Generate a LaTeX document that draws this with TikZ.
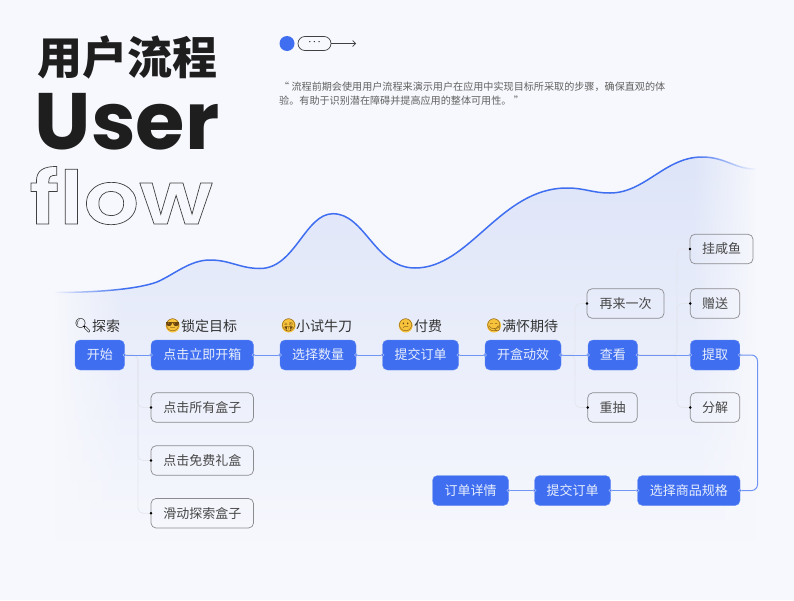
\documentclass[tikz,border=0pt]{standalone}
\usepackage{xcolor}
\usepackage{fontspec}
\usepackage{tikz}
\usetikzlibrary{arrows.meta, fadings, positioning}

\setmainfont{Noto Sans CJK SC}
\newfontfamily\titlefont{Noto Sans CJK SC Black}
\newfontfamily\userfont{Poppins}
\newfontfamily\flowfont{Poppins}[UprightFont=* SemiBold, FakeStretch=1.18]
\newfontfamily\emojifont{Noto Emoji}

\definecolor{paper}{HTML}{F7F8FD}
\definecolor{flowblue}{HTML}{3F6FF0}
\definecolor{flowthin}{HTML}{6F94F3}
\definecolor{areablue}{HTML}{DDE4F8}
\definecolor{ink}{HTML}{1E1E1E}
\definecolor{boxline}{HTML}{8C8C90}
\definecolor{branchgray}{HTML}{E4E6EE}
\definecolor{faceyellow}{HTML}{F8C33C}
\definecolor{facebrown}{HTML}{6A4510}

\tikzfading[name=fadeleft, left color=transparent!0, right color=transparent!100]
\tikzfading[name=faderight, left color=transparent!100, right color=transparent!0]

\newcommand{\curvepath}{(55,292.5) .. controls (90,292.5) and (135,290) .. (157,282)
    .. controls (175,274) and (190,260) .. (210,260)
    .. controls (230,260) and (240,268.5) .. (260,268.5)
    .. controls (295,268.5) and (305,213.7) .. (333,213.7)
    .. controls (365,213.7) and (375,268) .. (415,268)
    .. controls (470,268) and (500,188) .. (567,188)
    .. controls (585,188) and (592,193) .. (610,193)
    .. controls (645,193) and (665,157) .. (702,157)
    .. controls (725,157) and (735,169) .. (755,169)}

\tikzset{
    bluebox/.style={rectangle, rounded corners=5pt, fill=flowblue, draw=flowblue!80!white, line width=0.4pt,
        text=white!88!flowblue, minimum height=30pt, inner sep=0pt, outer sep=0pt, text height=11.4pt, text depth=1.6pt,
        font=\fontsize{13}{13}\selectfont},
    graybox/.style={rectangle, rounded corners=5pt, draw=boxline, line width=0.7pt,
        text=black!72, minimum height=29.5pt, inner sep=0pt, outer sep=0pt, text height=11.4pt, text depth=1.6pt,
        font=\fontsize{13}{13}\selectfont},
    steptitle/.style={inner sep=0pt, text=black!80, text height=12.3pt, text depth=1.7pt, font=\fontsize{14}{14}\selectfont},
    facemark/.style={circle, fill=faceyellow, inner sep=-4.5pt, minimum size=14pt, text=facebrown,
        font=\emojifont\fontsize{12.3}{12.3}\selectfont},
    glassmark/.style={inner sep=0pt, font=\emojifont\fontsize{14}{14}\selectfont},
    flowline/.style={flowthin, line width=1pt, rounded corners=6pt, shorten <=-1.7pt, shorten >=-1.7pt,
        {Circle[length=3.4pt, width=3.4pt, fill=flowblue, color=flowblue!45!white, line width=0.5pt]}-{Circle[length=3.4pt, width=3.4pt, fill=flowblue, color=flowblue!45!white, line width=0.5pt]}},
    branchline/.style={branchgray, line width=0.7pt, rounded corners=5pt, shorten >=-1.3pt,
        -{Circle[length=2.6pt, width=2.6pt, black]}}
}

\begin{document}
\begin{tikzpicture}[x=1pt, y=-1pt]
    \useasboundingbox (0,0) rectangle (794,600);
    % Paper
    \fill[paper] (0,0) rectangle (794,600);

    % Area under the curve
    \begin{scope}
        \clip \curvepath -- (755,560) -- (55,560) -- cycle;
        \shade[top color=areablue, bottom color=paper] (40,150) rectangle (770,550);
    \end{scope}
    \draw[flowblue, line width=1.5pt] \curvepath;
    % Both ends fade out
    \fill[paper, path fading=fadeleft] (53,280) rectangle (125,570);
    \fill[paper, path fading=faderight] (692,150) rectangle (757,570);

    % Titles
    \node[inner sep=0pt, text=ink, font=\titlefont\fontsize{45}{45}\selectfont] (titlecn) at (127.5,57.5) {用户流程};
    \node[inner sep=0pt, text=ink, font=\userfont\fontsize{80}{80}\selectfont\bfseries] (titleuser) at (127,122) {User};
    \node[anchor=base, inner sep=0pt, text=ink, font=\flowfont\fontsize{74}{74}\selectfont] (titleflow) at (121,224)
        {\special{pdf:code q 1 Tr 0.7 w 0.25 G}flow\special{pdf:code Q}};

    % Small sign next to the titles
    \node[circle, fill=flowblue, minimum size=15pt, inner sep=0pt] (signdot) at (287,43.5) {};
    \node[rectangle, rounded corners=7pt, draw=black!75, line width=0.7pt, minimum width=33pt, minimum height=14pt,
        inner sep=0pt, font=\userfont\fontsize{10}{10}\selectfont] (signpill) at (314.5,43.5) {\raisebox{-1.5pt}{·\kern2.5pt·\kern2.5pt·}};
    \coordinate (signend) at (356,43.5);
    \draw[black!75, line width=0.7pt, -{Straight Barb[length=3pt, width=6pt]}] (signpill) -- (signend);

    % Quote
    \node[anchor=north west, inner sep=0pt, text=black!62, align=left, font=\fontsize{10.1}{14}\selectfont] (quote) at (279,82)
        {“ 流程前期会使用用户流程来演示用户在应用中实现目标所采取的步骤，确保直观的体\\
         验。有助于识别潜在障碍并提高应用的整体可用性。 ”};

    % Main row
    \node[bluebox, minimum width=49.5pt] (start) at (99.75,355) {开始};
    \node[bluebox, minimum width=102.5pt] (open) at (202.25,355) {点击立即开箱};
    \node[bluebox, minimum width=76pt] (amount) at (318,355) {选择数量};
    \node[bluebox, minimum width=76pt] (order) at (420.5,355) {提交订单};
    \node[bluebox, minimum width=76pt] (effect) at (523,355) {开盒动效};
    \node[bluebox, minimum width=49.5pt] (view) at (612.75,355) {查看};
    \node[bluebox, minimum width=49.5pt] (fetch) at (715,355) {提取};
    % Bottom row
    \node[bluebox, minimum width=102.5pt] (spec) at (688.75,490.5) {选择商品规格};
    \node[bluebox, minimum width=76pt] (ordertwo) at (572.5,490.5) {提交订单};
    \node[bluebox, minimum width=76pt] (detail) at (470.5,490.5) {订单详情};
    % Side boxes
    \node[graybox, minimum width=102.5pt] (allbox) at (202.25,407.5) {点击所有盒子};
    \node[graybox, minimum width=102.5pt] (freebox) at (202.25,460.5) {点击免费礼盒};
    \node[graybox, minimum width=102.5pt] (slidebox) at (202.25,513.25) {滑动探索盒子};
    \node[graybox, minimum width=77pt] (again) at (625.5,303.5) {再来一次};
    \node[graybox, minimum width=49.5pt] (redraw) at (612.5,407.5) {重抽};
    \node[graybox, minimum width=63pt] (sell) at (721.5,249) {挂咸鱼};
    \node[graybox, minimum width=49.5pt] (gift) at (715,303.5) {赠送};
    \node[graybox, minimum width=49.5pt] (split) at (715,407.5) {分解};

    % Row titles
    \node[steptitle, anchor=west] (titleexplore) at (92,326) {探索};
    \node[steptitle, anchor=west] (titlegoal) at (181,326) {锁定目标};
    \node[steptitle, anchor=west] (titletry) at (296,326) {小试牛刀};
    \node[steptitle, anchor=west] (titlepay) at (414,326) {付费};
    \node[steptitle, anchor=west] (titlewait) at (502,326) {满怀期待};
    \node[glassmark] (markexplore) at (83,325.5) {🔍};
    \node[facemark] (markgoal) at (172.7,325.5) {😎};
    \node[facemark] (marktry) at (288.7,325.5) {😜};
    \node[facemark] (markpay) at (405.7,325.5) {😕};
    \node[facemark] (markwait) at (494,325.5) {😋};

    % Forks
    \coordinate (forkstart) at (138,355);
    \coordinate (forkview) at (575,355);
    \coordinate (forkfetch) at (677,355);
    \coordinate (loopright) at (757.5,420);
    \draw[branchline] (start.east) -- (forkstart) |- (allbox.west);
    \draw[branchline] (start.east) -- (forkstart) |- (freebox.west);
    \draw[branchline] (start.east) -- (forkstart) |- (slidebox.west);
    \draw[branchline] (effect.east) -- (forkview) |- (again.west);
    \draw[branchline] (effect.east) -- (forkview) |- (redraw.west);
    \draw[branchline] (view.east) -- (forkfetch) |- (sell.west);
    \draw[branchline] (view.east) -- (forkfetch) |- (gift.west);
    \draw[branchline] (view.east) -- (forkfetch) |- (split.west);

    % Flow
    \draw[flowline] (start) -- (open);
    \draw[flowline] (open) -- (amount);
    \draw[flowline] (amount) -- (order);
    \draw[flowline] (order) -- (effect);
    \draw[flowline] (effect) -- (view);
    \draw[flowline] (view) -- (fetch);
    \draw[flowline] (fetch.east) -| (loopright) |- (spec.east);
    \draw[flowline] (spec) -- (ordertwo);
    \draw[flowline] (ordertwo) -- (detail);
\end{tikzpicture}
\end{document}
